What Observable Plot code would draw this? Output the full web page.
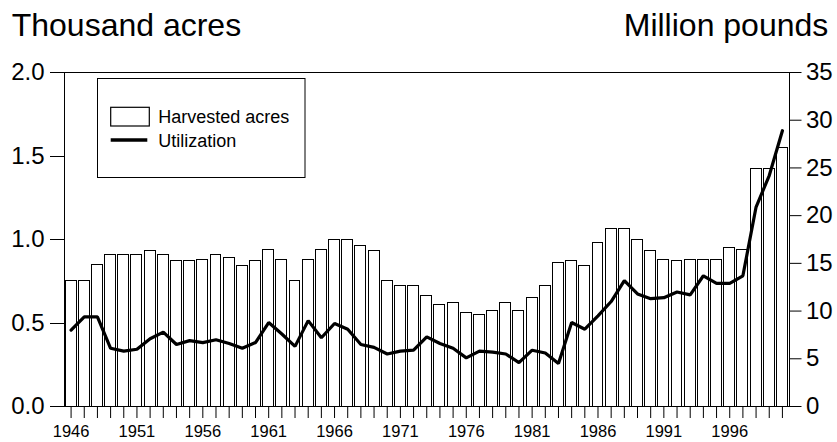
<!DOCTYPE html>
<html>
<head>
<meta charset="utf-8">
<script src="https://cdn.jsdelivr.net/npm/d3@7"></script>
<script src="https://cdn.jsdelivr.net/npm/@observablehq/plot@0.6"></script>
<style>
  html, body { margin: 0; padding: 0; background: white; }
  #chart svg { display: block; }
</style>
</head>
<body>
<div id="chart"></div>
<script>
const years = [1946,1947,1948,1949,1950,1951,1952,1953,1954,1955,1956,1957,1958,1959,1960,1961,1962,1963,1964,1965,1966,1967,1968,1969,1970,1971,1972,1973,1974,1975,1976,1977,1978,1979,1980,1981,1982,1983,1984,1985,1986,1987,1988,1989,1990,1991,1992,1993,1994,1995,1996,1997,1998,1999,2000];
// Harvested acres (thousand acres)
const acres = [0.75,0.75,0.85,0.91,0.91,0.91,0.93,0.91,0.87,0.87,0.88,0.91,0.89,0.84,0.87,0.94,0.88,0.75,0.88,0.94,1.00,1.00,0.96,0.93,0.75,0.72,0.72,0.66,0.61,0.62,0.56,0.55,0.57,0.62,0.57,0.65,0.72,0.86,0.87,0.84,0.98,1.06,1.06,1.00,0.93,0.88,0.87,0.88,0.88,0.88,0.95,0.94,1.42,1.42,1.55];
// Utilization (million pounds)
const utilization = [8.0,9.4,9.4,6.1,5.8,6.0,7.1,7.8,6.5,6.9,6.7,7.0,6.6,6.1,6.7,8.8,7.6,6.3,9.0,7.2,8.7,8.1,6.5,6.2,5.5,5.8,5.9,7.3,6.6,6.1,5.1,5.8,5.7,5.5,4.6,5.9,5.6,4.5,8.8,8.1,9.5,11.0,13.2,11.8,11.3,11.4,12.0,11.7,13.7,12.9,12.9,13.7,20.9,24.2,28.9];
const leftTicks = [0, 0.5, 1.0, 1.5, 2.0];
const rightTicks = [0, 5, 10, 15, 20, 25, 30, 35];
const labeledYears = [1946, 1951, 1956, 1961, 1966, 1971, 1976, 1981, 1986, 1991, 1996];
const leftMax = 2.0, rightMax = 35;

const data = years.map((year, i) => ({year, acres: acres[i], util: utilization[i]}));
const toLeft = v => v * leftMax / rightMax;
const font = "'Liberation Sans', Arial, Helvetica, sans-serif";

const plot = Plot.plot({
  width: 837,
  height: 442,
  marginLeft: 64,
  marginRight: 48.5,
  marginTop: 72,
  marginBottom: 36,
  style: {fontFamily: font, color: "black", background: "white"},
  x: {type: "band", domain: years, paddingInner: 0.17, paddingOuter: 0.085, round: false, label: null},
  y: {domain: [0, leftMax], label: null},
  marks: [
    Plot.barY(data, {x: "year", y: "acres", fill: "white", stroke: "black", strokeWidth: 1, shapeRendering: "crispEdges"}),
    Plot.lineY(data, {x: "year", y: d => toLeft(d.util), stroke: "black", strokeWidth: 3.2, strokeLinejoin: "miter"}),
    Plot.frame({stroke: "black", strokeWidth: 1, shapeRendering: "crispEdges"}),
    Plot.axisY({anchor: "left", ticks: leftTicks, tickFormat: d3.format(".1f"), tickSize: 14, tickPadding: 6, fontSize: 24, label: null, shapeRendering: "crispEdges"}),
    Plot.axisY({anchor: "right", ticks: rightTicks.map(toLeft), tickFormat: v => String(Math.round(v * rightMax / leftMax)), tickSize: 12, tickPadding: 5, fontSize: 24, label: null}),
    Plot.axisX({tickSize: 12, tickPadding: 7, tickFormat: d => labeledYears.includes(d) ? String(d) : "", fontSize: 16.5, label: null})
  ]
});
document.getElementById("chart").appendChild(plot);

const svg = d3.select(plot);
svg.append("text").attr("x", 11.7).attr("y", 36).attr("font-size", 32).attr("font-family", font)
  .attr("text-anchor", "start").attr("fill", "black").text("Thousand acres");
svg.append("text").attr("x", 828.3).attr("y", 36).attr("font-size", 32).attr("font-family", font)
  .attr("text-anchor", "end").attr("fill", "black").text("Million pounds");

const lg = svg.append("g").attr("font-family", font).attr("font-size", 18).attr("fill", "black")
  .attr("text-anchor", "start");
lg.append("rect").attr("x", 97.5).attr("y", 78.5).attr("width", 207.5).attr("height", 99)
  .attr("fill", "white").attr("stroke", "black").attr("stroke-width", 1);
lg.append("rect").attr("x", 110.7).attr("y", 107.3).attr("width", 38.6).attr("height", 18.7)
  .attr("fill", "white").attr("stroke", "black").attr("stroke-width", 1.2);
lg.append("text").attr("x", 158.3).attr("y", 123.3).text("Harvested acres");
lg.append("line").attr("x1", 110.7).attr("x2", 147.3).attr("y1", 140).attr("y2", 140)
  .attr("stroke", "black").attr("stroke-width", 3.3);
lg.append("text").attr("x", 158.3).attr("y", 147.3).text("Utilization");
</script>
</body>
</html>
